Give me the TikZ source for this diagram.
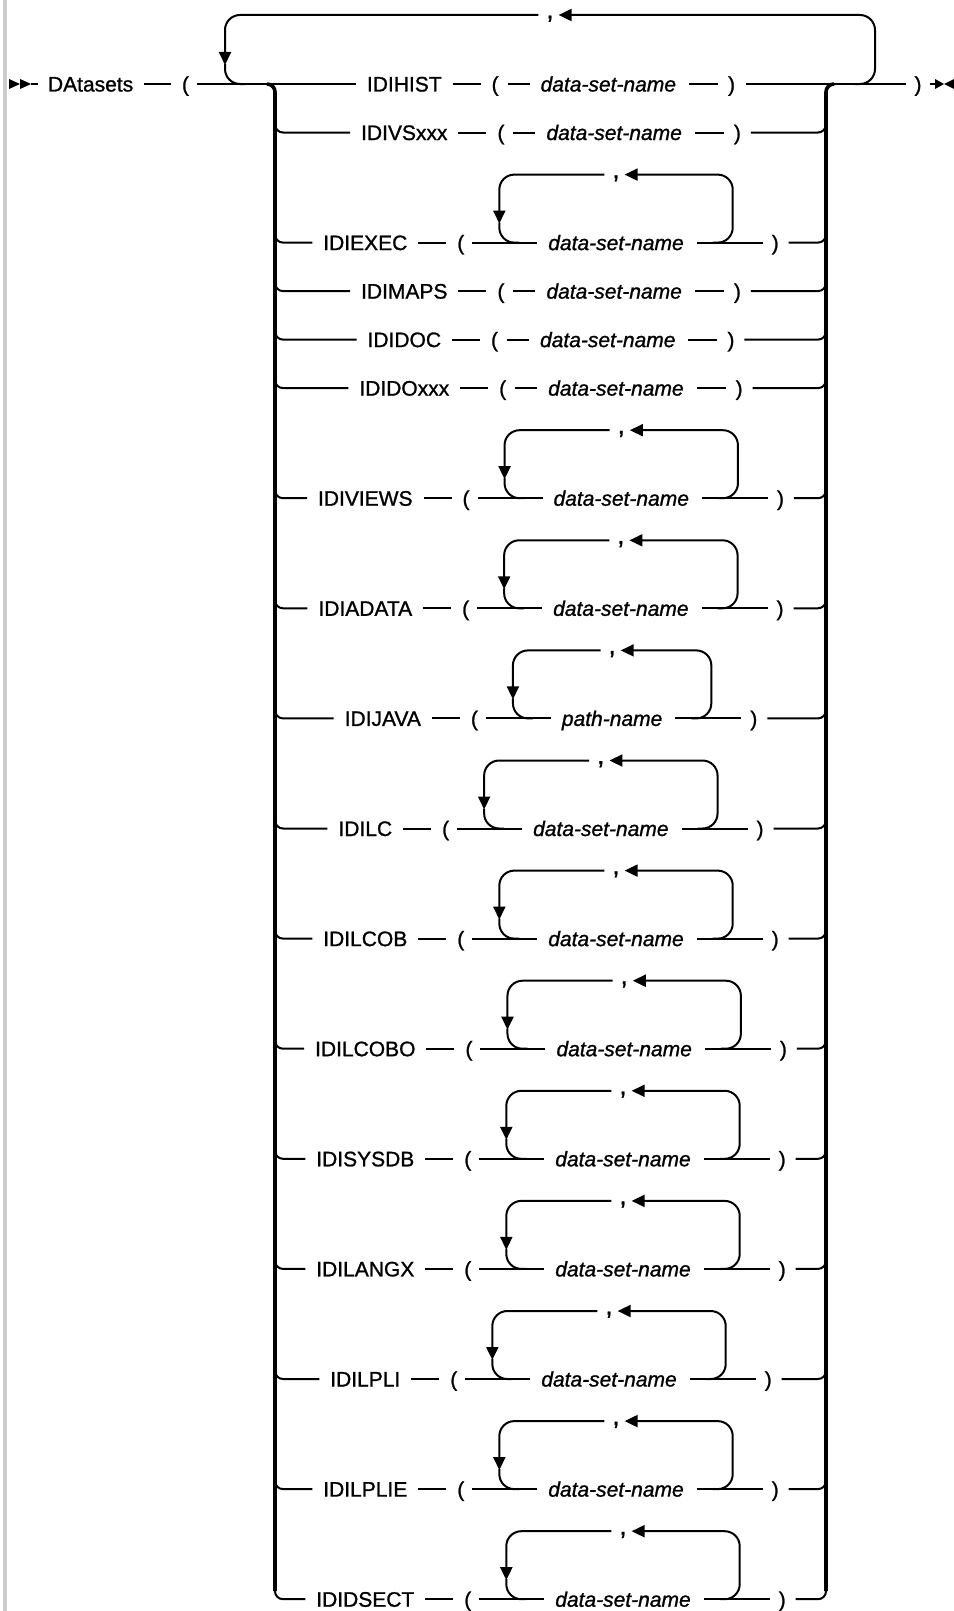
\documentclass[tikz,border=0pt]{standalone}
\usepackage{fontspec}
\setmainfont{Liberation Sans}[FakeBold=1.1]
\usetikzlibrary{calc,arrows.meta}
\newdimen\kwL \newdimen\itL \newdimen\opL \newdimen\cpL
\newcommand\rf{\fontsize{21}{25}\selectfont}
\newcommand\getw[1]{\settowidth\kwL{\rf #1}\expandafter\xdef\csname Wd-#1\endcsname{\the\kwL}}
\newcommand\getwi[1]{\settowidth\itL{\rf\itshape #1}\expandafter\xdef\csname Wi-#1\endcsname{\the\itL}}
\newcommand\barlinks[1]{%
  \draw[bc, shorten >=10pt] ($(#1L)+(0,-16)$) -- (#1L) -- (#1k);
  \draw[bc, shorten <=9pt] (#1c) -- (#1R) -- ($(#1R)+(0,-16)$);
}
\newcommand\simplerow[4]{%
  \kwL=\csname Wd-#3\endcsname\relax
  \itL=\csname Wi-#4\endcsname\relax
  \pgfmathsetmacro\Rxs{550-(\kwL+\opL+\itL+\cpL+144)/2}%
  \pgfmathsetmacro\Rxo{\Rxs+\kwL+50}%
  \pgfmathsetmacro\Rxd{\Rxo+\opL+42}%
  \pgfmathsetmacro\Rxc{\Rxd+\itL+52}%
  \node[txt] (#1k) at (\Rxs,#2) {#3};
  \node[txt] (#1o) at (\Rxo,#2) {(};
  \node[txt,font=\rf\itshape] (#1d) at (\Rxd,#2) {#4};
  \node[txt] (#1c) at (\Rxc,#2) {)};
  \coordinate (#1L) at (275,#2);
  \coordinate (#1R) at (826,#2);
  \draw[cgap] (#1k) -- (#1o);
  \draw[cgap,shorten <=8pt] (#1o) -- (#1d);
  \draw[cgap,shorten <=12pt,shorten >=9pt] (#1d) -- (#1c);
}
\newcommand\looprow[4]{%
  \kwL=\csname Wd-#3\endcsname\relax
  \itL=\csname Wi-#4\endcsname\relax
  \pgfmathsetmacro\Rxs{550-(\kwL+\opL+\itL+\cpL+222)/2}%
  \pgfmathsetmacro\Rxo{\Rxs+\kwL+50}%
  \pgfmathsetmacro\Rxl{\Rxo+\opL+36}%
  \pgfmathsetmacro\Rxd{\Rxl+48}%
  \pgfmathsetmacro\Rxr{\Rxd+\itL+50}%
  \pgfmathsetmacro\Rxc{\Rxr+38}%
  \pgfmathsetmacro\Rxm{(\Rxl+\Rxr)/2}%
  \pgfmathsetmacro\Ryt{#2-68}%
  \node[txt] (#1k) at (\Rxs,#2) {#3};
  \node[txt] (#1o) at (\Rxo,#2) {(};
  \node[txt,font=\rf\itshape] (#1d) at (\Rxd,#2) {#4};
  \node[txt] (#1c) at (\Rxc,#2) {)};
  \coordinate (#1BL) at (\Rxl,#2);
  \coordinate (#1TL) at (\Rxl,\Ryt);
  \coordinate (#1BR) at (\Rxr,#2);
  \coordinate (#1TR) at (\Rxr,\Ryt);
  \node[commanode] (#1m) at (\Rxm,\Ryt) {,};
  \coordinate (#1L) at (275,#2);
  \coordinate (#1R) at (826,#2);
  \draw[cgap] (#1k) -- (#1o);
  \draw[cgap,shorten <=7pt] (#1o) -- (#1d);
  \draw[cgap,shorten <=12pt,shorten >=8pt] (#1d) -- (#1c);
  \draw[lp,tip] ($(#1m.west)+(-7,0)$) -- (#1TL) -- ($(#1BL)+(0,-19)$);
  \draw[lp] ($(#1BL)+(0,-20)$) -- (#1BL) -- ($(#1BL)+(20,0)$);
  \draw[lp,tip] ($(#1BR)+(-20,0)$) -- (#1BR) -- (#1TR) -- ($(#1m.east)+(4,0)$);
}
\begin{document}
\settowidth\opL{\rf (}\settowidth\cpL{\rf )}%
\getw{IDIHIST}\getw{IDIVSxxx}\getw{IDIEXEC}\getw{IDIMAPS}\getw{IDIDOC}%
\getw{IDIDOxxx}\getw{IDIVIEWS}\getw{IDIADATA}\getw{IDIJAVA}\getw{IDILC}%
\getw{IDILCOB}\getw{IDILCOBO}\getw{IDISYSDB}\getw{IDILANGX}\getw{IDILPLI}%
\getw{IDILPLIE}\getw{IDIDSECT}\getwi{data-set-name}\getwi{path-name}%
\begin{tikzpicture}[x=1pt,y=-1pt,line width=2pt,
  txt/.style={anchor=west,inner sep=0pt,text height=15pt,text depth=0pt,font=\rf},
  commanode/.style={inner sep=0pt,text height=7pt,text depth=0pt,font=\fontsize{26}{30}\selectfont},
  cgap/.style={shorten <=10pt,shorten >=10pt},
  bar/.style={line width=3.6pt},
  tip/.style={-{Triangle[length=13pt,width=12pt]}},
  lp/.style={rounded corners=15pt},
  bc/.style={rounded corners=8pt}]
\useasboundingbox (0,0) rectangle (953,1611);
\fill[gray!40] (3,0) rectangle (7,1611);
% start
\node[txt] (dt) at (47,84) {DAtasets};
\node[txt] (mo) at (181,84) {(};
\node[txt] (mc) at (913.5,84) {)};
\coordinate (s0) at (9,84);
\coordinate (s1) at (20,84);
\coordinate (s2) at (31,84);
\fill ($(s0)+(0,-5)$) -- (s1) -- ($(s0)+(0,5)$) -- cycle;
\fill ($(s1)+(0,-5)$) -- (s2) -- ($(s1)+(0,5)$) -- cycle;
\draw[shorten >=9pt] (s2) -- (dt);
\draw[cgap] (dt) -- (mo);
% rows
\simplerow{r1}{84}{IDIHIST}{data-set-name}
\simplerow{r2}{132.5}{IDIVSxxx}{data-set-name}
\looprow{r3}{242.6}{IDIEXEC}{data-set-name}
\simplerow{r4}{291.1}{IDIMAPS}{data-set-name}
\simplerow{r5}{339.6}{IDIDOC}{data-set-name}
\simplerow{r6}{388.1}{IDIDOxxx}{data-set-name}
\looprow{r7}{498.2}{IDIVIEWS}{data-set-name}
\looprow{r8}{608.3}{IDIADATA}{data-set-name}
\looprow{r9}{718.4}{IDIJAVA}{path-name}
\looprow{r10}{828.5}{IDILC}{data-set-name}
\looprow{r11}{938.6}{IDILCOB}{data-set-name}
\looprow{r12}{1048.7}{IDILCOBO}{data-set-name}
\looprow{r13}{1158.8}{IDISYSDB}{data-set-name}
\looprow{r14}{1268.9}{IDILANGX}{data-set-name}
\looprow{r15}{1379.0}{IDILPLI}{data-set-name}
\looprow{r16}{1489.1}{IDILPLIE}{data-set-name}
\looprow{r17}{1599.2}{IDIDSECT}{data-set-name}
% main line
\draw[shorten <=7pt, shorten >=10pt] (mo) -- (r1k);
\draw[shorten <=10pt, shorten >=8pt] (r1c) -- (mc);
\coordinate (e0) at (935,84);
\coordinate (e1) at (944,84);
\coordinate (e2) at (953,84);
\draw[shorten <=7pt] (mc) -- (e0);
\fill ($(e0)+(0,-5)$) -- (e1) -- ($(e0)+(0,5)$) -- cycle;
\fill ($(e2)+(1,-5)$) -- (e1) -- ($(e2)+(1,5)$) -- cycle;
% outer repeat loop
\coordinate (OBL) at (225,84);
\coordinate (OTL) at (225,15);
\coordinate (OTR) at (875,15);
\coordinate (OBR) at (875,84);
\node[commanode] (oc) at (550,15) {,};
\draw[lp,tip] ($(oc.west)+(-7,0)$) -- (OTL) -- ($(OBL)+(0,-19)$);
\draw[lp] ($(OBL)+(0,-20)$) -- (OBL) -- ($(OBL)+(20,0)$);
\draw[lp,tip] ($(OBR)+(-20,0)$) -- (OBR) -- (OTR) -- ($(oc.east)+(4,0)$);
% branch bars
\coordinate (LT) at (275,84);
\coordinate (RT) at (826,84);
\draw[bar,bc] ($(LT)+(-8,0)$) -- (LT) -- ($(r17L)+(0,-8)$);
\draw[bar,bc] ($(RT)+(8,0)$) -- (RT) -- ($(r17R)+(0,-8)$);
\barlinks{r2}\barlinks{r3}\barlinks{r4}\barlinks{r5}\barlinks{r6}
\barlinks{r7}\barlinks{r8}\barlinks{r9}\barlinks{r10}\barlinks{r11}
\barlinks{r12}\barlinks{r13}\barlinks{r14}\barlinks{r15}\barlinks{r16}
\barlinks{r17}
\end{tikzpicture}
\end{document}
